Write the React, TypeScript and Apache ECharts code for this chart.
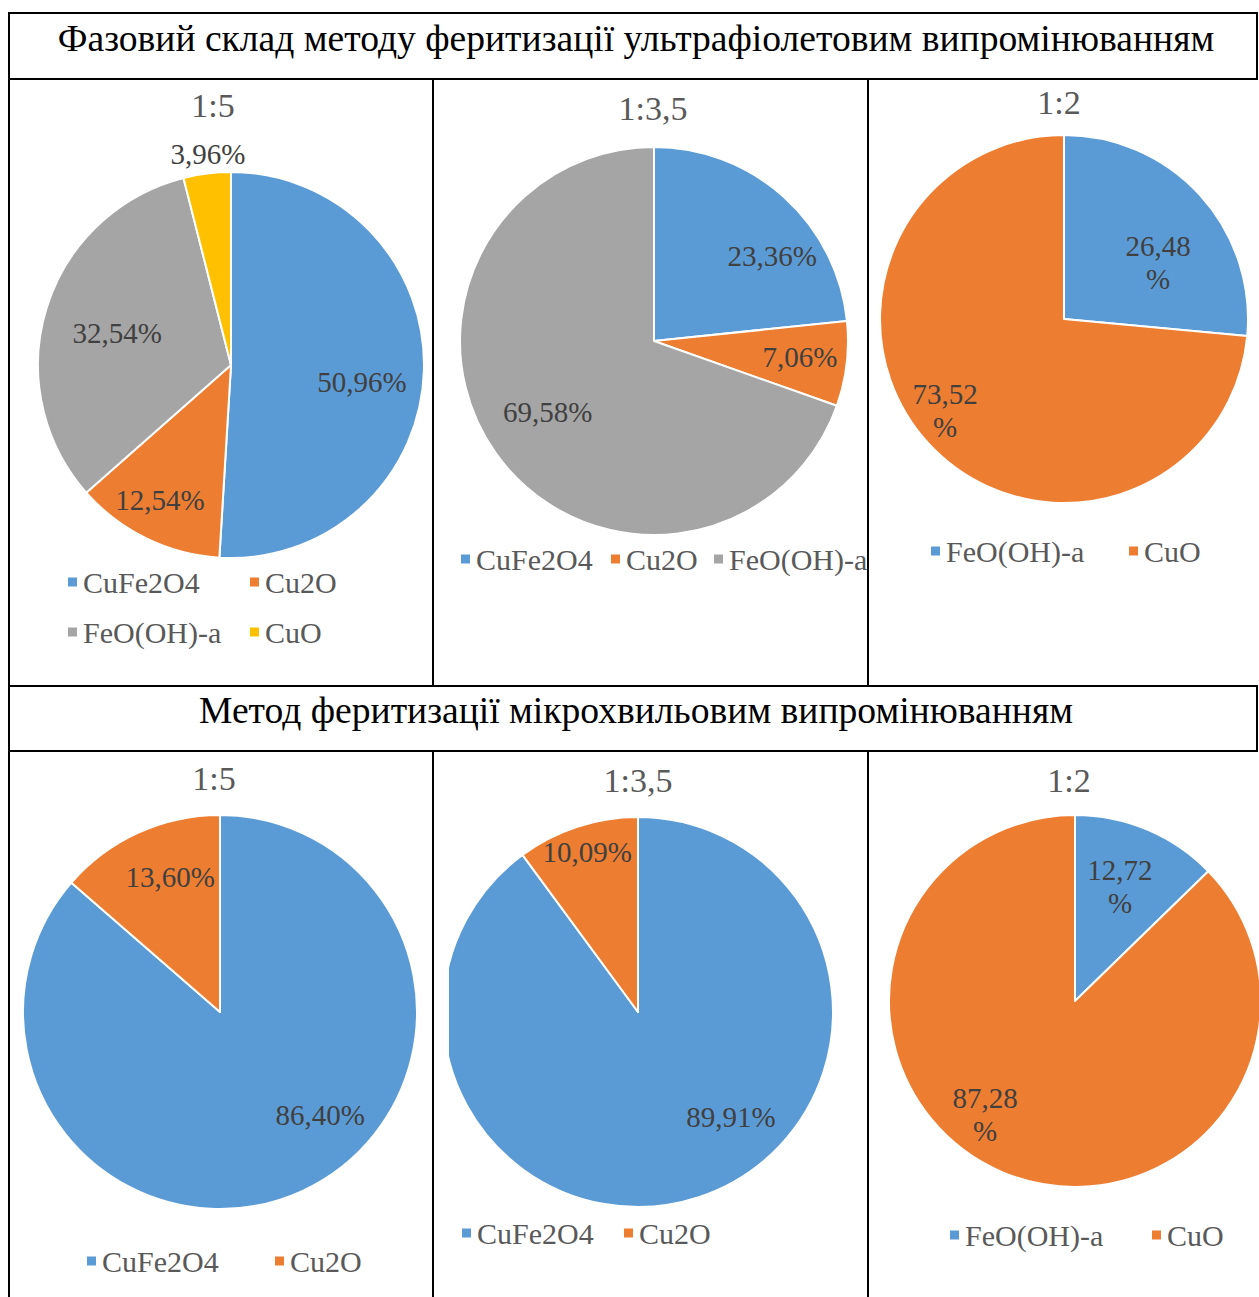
import React, { useEffect, useRef } from "react";
import * as echarts from "echarts";

// Section headings of the table
const uvHeading = "Фазовий склад методу феритизації ультрафіолетовим випромінюванням";
const mwHeading = "Метод феритизації мікрохвильовим випромінюванням";

// Molar ratios shown above each pie
const ratioTitles = ["1:5", "1:3,5", "1:2"];

// Ultraviolet method: phase shares, %
const uvPhases15 = ["CuFe2O4", "Cu2O", "FeO(OH)-a", "CuO"];
const uvShares15 = [50.96, 12.54, 32.54, 3.96];
const uvPhases135 = ["CuFe2O4", "Cu2O", "FeO(OH)-a"];
const uvShares135 = [23.36, 7.06, 69.58];
const uvPhases12 = ["FeO(OH)-a", "CuO"];
const uvShares12 = [26.48, 73.52];

// Microwave method: phase shares, %
const mwPhases15 = ["CuFe2O4", "Cu2O"];
const mwShares15 = [86.4, 13.6];
const mwPhases135 = ["CuFe2O4", "Cu2O"];
const mwShares135 = [89.91, 10.09];
const mwPhases12 = ["FeO(OH)-a", "CuO"];
const mwShares12 = [12.72, 87.28];

// Office palette, assigned by slice order
const SLICE_COLORS = ["#5B9BD5", "#ED7D31", "#A5A5A5", "#FFC000"];
const FONT = "'Liberation Serif', 'Times New Roman', serif";
const TEXT_GREY = "#595959";
const LABEL_GREY = "#404040";

type Panel = {
  title: string;
  names: string[];
  values: number[];
  cx: number;
  cy: number;
  r: number;
  titleY: number;
  titleX: number;
  labelRadius: number[]; // label distance from centre, as a fraction of radius
  labelTurn: number[]; // clockwise turn of the label away from the slice bisector, degrees
  wrapPercent: boolean;
  legendPos: [number, number][]; // left of each legend entry, vertical centre
};

const panels: Panel[] = [
  {
    title: ratioTitles[0], names: uvPhases15, values: uvShares15,
    cx: 231, cy: 365, r: 193, titleX: 213, titleY: 105,
    labelRadius: [0.684, 0.79, 0.613, 1.1], labelTurn: [5.7, 1.7, -1.5, 0.9],
    wrapPercent: false,
    legendPos: [[66, 582], [248, 582], [66, 632], [248, 632]],
  },
  {
    title: ratioTitles[1], names: uvPhases135, values: uvShares135,
    cx: 654, cy: 341, r: 194, titleX: 653, titleY: 108,
    labelRadius: [0.75, 0.757, 0.66], labelTurn: [12.2, -0.5, 1.4],
    wrapPercent: false,
    legendPos: [[459, 559], [609, 559], [712, 559]],
  },
  {
    title: ratioTitles[2], names: uvPhases12, values: uvShares12,
    cx: 1064, cy: 319, r: 184, titleX: 1059, titleY: 102,
    labelRadius: [0.595, 0.814], labelTurn: [11.5, 4.9],
    wrapPercent: true,
    legendPos: [[929, 551], [1127, 551]],
  },
  {
    title: ratioTitles[0], names: mwPhases15, values: mwShares15,
    cx: 220, cy: 1012, r: 197, titleX: 214, titleY: 778,
    labelRadius: [0.729, 0.731], labelTurn: [-19.7, 4.2],
    wrapPercent: false,
    legendPos: [[85, 1261], [273, 1261]],
  },
  {
    title: ratioTitles[1], names: mwPhases135, values: mwShares135,
    cx: 638, cy: 1012, r: 195, titleX: 638, titleY: 780,
    labelRadius: [0.72, 0.86], labelTurn: [-23.3, 0.5],
    wrapPercent: false,
    legendPos: [[460, 1233], [622, 1233]],
  },
  {
    title: ratioTitles[2], names: mwPhases12, values: mwShares12,
    cx: 1075, cy: 1001, r: 186, titleX: 1069, titleY: 780,
    labelRadius: [0.66, 0.777], labelTurn: [-1.4, 15.6],
    wrapPercent: true,
    legendPos: [[948, 1235], [1150, 1235]],
  },
];

const formatShare = (v: number, wrap: boolean) =>
  v.toFixed(2).replace(".", ",") + (wrap ? "\n%" : "%");

function buildOption() {
  const series = panels.map((p) => ({
    type: "pie",
    center: [p.cx, p.cy],
    radius: [0, p.r],
    startAngle: 90,
    clockwise: true,
    avoidLabelOverlap: false,
    silent: true,
    itemStyle: { borderColor: "#ffffff", borderWidth: 2 },
    label: {
      show: true,
      position: "inside",
      color: LABEL_GREY,
      fontFamily: FONT,
      fontSize: 29,
      lineHeight: 33,
      formatter: (prm: any) => formatShare(prm.value, p.wrapPercent),
    },
    labelLine: { show: false },
    // move each inside label along (and slightly around) its slice bisector
    labelLayout: (prm: any) => {
      const i = prm.dataIndex;
      const lr = prm.labelRect;
      const vx = lr.x + lr.width / 2 - p.cx;
      const vy = lr.y + lr.height / 2 - p.cy;
      const len = Math.hypot(vx, vy) || 1;
      const ux = vx / len;
      const uy = vy / len;
      const s = (p.labelTurn[i] * Math.PI) / 180;
      const rx = ux * Math.cos(s) - uy * Math.sin(s);
      const ry = ux * Math.sin(s) + uy * Math.cos(s);
      const d = p.labelRadius[i] * p.r;
      return {
        x: p.cx + rx * d,
        y: p.cy + ry * d,
        align: "center",
        verticalAlign: "middle",
      };
    },
    data: p.names.map((n, i) => ({
      name: n,
      value: p.values[i],
      itemStyle: { color: SLICE_COLORS[i] },
    })),
  }));

  const legend: any[] = [];
  panels.forEach((p) => {
    p.names.forEach((n, i) => {
      legend.push({
        left: p.legendPos[i][0],
        top: p.legendPos[i][1] - 16,
        padding: 0,
        icon: "rect",
        itemWidth: 11,
        itemHeight: 11,
        selectedMode: false,
        textStyle: { fontFamily: FONT, fontSize: 30, color: TEXT_GREY, lineHeight: 32 },
        data: [{ name: n, itemStyle: { color: SLICE_COLORS[i] } }],
      });
    });
  });

  const lineStyle = { stroke: "#000000", lineWidth: 2 };
  const hLine = (y: number, x1: number, x2: number) => ({
    type: "line", z: 30, shape: { x1, y1: y, x2, y2: y }, style: lineStyle,
  });
  const vLine = (x: number, y1: number, y2: number) => ({
    type: "line", z: 30, shape: { x1: x, y1, x2: x, y2 }, style: lineStyle,
  });

  const graphic: any[] = [
    // white edge that trims the middle microwave pie on its left side
    { type: "rect", z: 20, shape: { x: 434, y: 752, width: 15, height: 545 }, style: { fill: "#ffffff" } },
    // white edge that trims the last legend entry of the middle UV cell
    { type: "rect", z: 20, shape: { x: 867, y: 530, width: 40, height: 60 }, style: { fill: "#ffffff" } },
    // table grid
    hLine(13, 9, 1258),
    hLine(79, 9, 1258),
    hLine(686, 9, 1258),
    hLine(751, 9, 1258),
    vLine(9, 12, 1297),
    vLine(1257, 12, 79),
    vLine(1257, 686, 751),
    vLine(433, 79, 686),
    vLine(868, 79, 686),
    vLine(433, 751, 1297),
    vLine(868, 751, 1297),
    // section headings
    {
      type: "text", z: 30, x: 636, y: 38,
      style: { text: uvHeading, fill: "#000000", fontFamily: FONT, fontSize: 37.6, align: "center", verticalAlign: "middle" },
    },
    {
      type: "text", z: 30, x: 636, y: 710,
      style: { text: mwHeading, fill: "#000000", fontFamily: FONT, fontSize: 37.6, align: "center", verticalAlign: "middle" },
    },
    // ratio titles
    ...panels.map((p) => ({
      type: "text", z: 30, x: p.titleX, y: p.titleY,
      style: { text: p.title, fill: TEXT_GREY, fontFamily: FONT, fontSize: 34, align: "center", verticalAlign: "middle" },
    })),
  ];

  return {
    animation: false,
    backgroundColor: "#ffffff",
    legend,
    series,
    graphic,
  };
}

export default function App() {
  const ref = useRef<HTMLDivElement>(null);
  useEffect(() => {
    if (!ref.current) return;
    const chart = echarts.init(ref.current, undefined, { renderer: "svg" });
    chart.setOption(buildOption() as any);
    return () => chart.dispose();
  }, []);
  return (
    <div
      ref={ref}
      style={{ position: "absolute", left: 0, top: 0, width: 1259, height: 1297, background: "#ffffff" }}
    />
  );
}
